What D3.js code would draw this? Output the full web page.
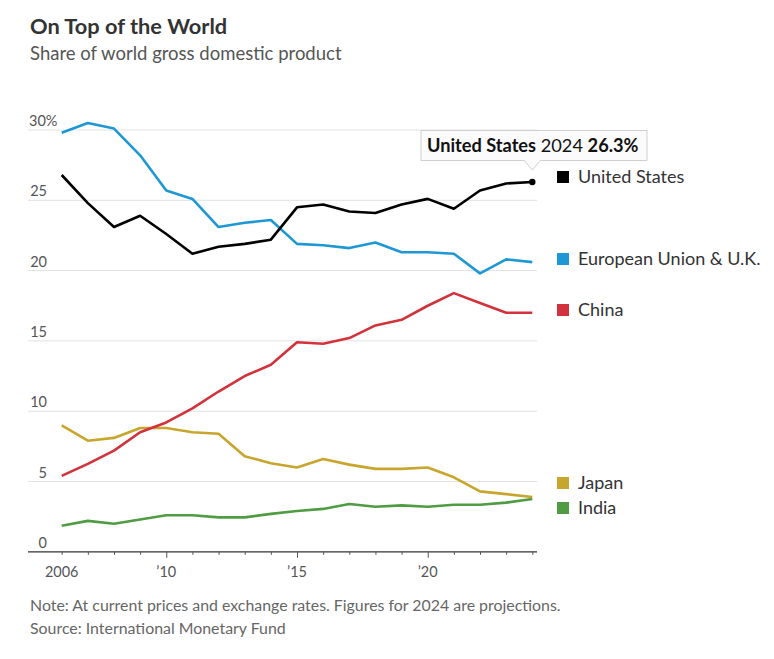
<!DOCTYPE html>
<html><head><meta charset="utf-8">
<script src="https://cdn.jsdelivr.net/npm/d3@7"></script>
<style>
body{margin:0;background:#fff;}
svg{display:block;font-family:Lato, "Noto Sans", sans-serif;}
</style></head>
<body><svg id="c" width="774" height="659"></svg>
<script>
const years = d3.range(2006, 2025);
const usValues    = [26.8,24.8,23.1,23.9,22.6,21.2,21.7,21.9,22.2,24.5,24.7,24.2,24.1,24.7,25.1,24.4,25.7,26.2,26.3];
const euValues    = [29.8,30.5,30.1,28.2,25.7,25.1,23.1,23.4,23.6,21.9,21.8,21.6,22.0,21.3,21.3,21.2,19.8,20.8,20.6];
const chinaValues = [5.4,6.25,7.2,8.5,9.2,10.2,11.4,12.5,13.3,14.9,14.8,15.2,16.1,16.5,17.5,18.4,17.7,17.0,17.0];
const japanValues = [9.0,7.9,8.1,8.8,8.8,8.5,8.4,6.8,6.3,6.0,6.6,6.2,5.9,5.9,6.0,5.3,4.3,4.1,3.9];
const indiaValues = [1.85,2.2,2.0,2.3,2.6,2.6,2.45,2.45,2.7,2.9,3.05,3.4,3.2,3.3,3.2,3.35,3.35,3.5,3.75];
const seriesNames = ["United States","European Union & U.K.","China","Japan","India"];
const yTicks = [0,5,10,15,20,25,30];
const xLabelYears = [2006,2010,2015,2020];

const series = [
  {name:seriesNames[0], values:usValues, color:"#000000", ly:177},
  {name:seriesNames[1], values:euValues, color:"#1e98d4", ly:259},
  {name:seriesNames[2], values:chinaValues, color:"#d2323b", ly:310},
  {name:seriesNames[3], values:japanValues, color:"#c8a52c", ly:483},
  {name:seriesNames[4], values:indiaValues, color:"#4f9c43", ly:508}
];

const svg = d3.select("#c");
const x = d3.scaleLinear().domain([2006,2024]).range([61.7,532.3]);
const y = d3.scaleLinear().domain([0,30]).range([551.8,130]);

// title
svg.append("text").attr("x",30).attr("y",34).attr("font-size",21.8).attr("font-weight",700).attr("fill","#333").text("On Top of the World");
svg.append("text").attr("x",30).attr("y",60).attr("font-size",18.5).attr("fill","#555").text("Share of world gross domestic product");

// gridlines
svg.append("g").selectAll("line").data(yTicks.filter(d=>d>0)).join("line")
  .attr("x1",28).attr("x2",537).attr("y1",d=>y(d)).attr("y2",d=>y(d))
  .attr("stroke","#e2e2e2").attr("stroke-width",1);

// y labels
const yl = svg.append("g").selectAll("text").data(yTicks).join("text")
  .attr("x",47).attr("y",d=>y(d)-4).attr("font-size",14.5).attr("fill","#555").attr("text-anchor","end")
  .text(d=>d);
yl.filter(d=>d===30).text(null).attr("text-anchor","start").attr("x",29)
  .call(t=>{t.append("tspan").text("30");t.append("tspan").text("%");});

// x axis
const xAxis = d3.axisBottom(x).tickValues(years).tickSize(4).tickFormat("");
const gx = svg.append("g").attr("transform",`translate(0,${y(0)})`).call(xAxis);
gx.select(".domain").attr("d","M28,0H537").attr("stroke","#333").attr("stroke-width",1.2);
gx.selectAll(".tick line").attr("stroke","#555").attr("y2",d=>xLabelYears.includes(d)&&d!==2006?6:3);
svg.append("g").selectAll("text").data(xLabelYears).join("text")
  .attr("x",d=>x(d)).attr("y",577).attr("text-anchor","middle").attr("font-size",14.5).attr("fill","#555")
  .text(d=>d===2006?"2006":"\u2019"+String(d).slice(2));

// lines
const line = d3.line().x((d,i)=>x(years[i])).y(d=>y(d));
svg.append("g").selectAll("path").data(series.slice().reverse()).join("path")
  .attr("d",d=>line(d.values)).attr("fill","none").attr("stroke",d=>d.color)
  .attr("stroke-width",2.6).attr("stroke-linejoin","round");

// US endpoint dot
svg.append("circle").attr("cx",x(2024)).attr("cy",y(usValues[18])).attr("r",3.2).attr("fill","#000");

// legend
const lg = svg.append("g").selectAll("g").data(series).join("g").attr("transform",d=>`translate(557,${d.ly})`);
lg.append("rect").attr("x",0).attr("y",-6).attr("width",12).attr("height",12).attr("fill",d=>d.color);
lg.append("text").attr("x",21).attr("y",6).attr("font-size",18).attr("fill","#333").text(d=>d.name);

// tooltip
const tx = x(2024), ty = y(usValues[18]);
const tip = svg.append("g");
tip.append("path")
  .attr("d",`M421,130.5H647V160.5H${tx+8}L${tx},${ty-12}L${tx-8},160.5H421Z`)
  .attr("fill","#fbfbfb").attr("stroke","#cfcfcf").attr("stroke-width",1);
const tt = tip.append("text").attr("x",427).attr("y",152).attr("font-size",18.2).attr("fill","#111");
tt.append("tspan").attr("font-weight",700).text("United States");
tt.append("tspan").text(" 2024 ");
tt.append("tspan").attr("font-weight",700).text(usValues[18].toFixed(1)+"%");

// notes
svg.append("text").attr("x",30).attr("y",611).attr("font-size",15.9).attr("fill","#666").text("Note: At current prices and exchange rates. Figures for 2024 are projections.");
svg.append("text").attr("x",30).attr("y",634).attr("font-size",15.9).attr("fill","#666").text("Source: International Monetary Fund");
</script></body></html>
